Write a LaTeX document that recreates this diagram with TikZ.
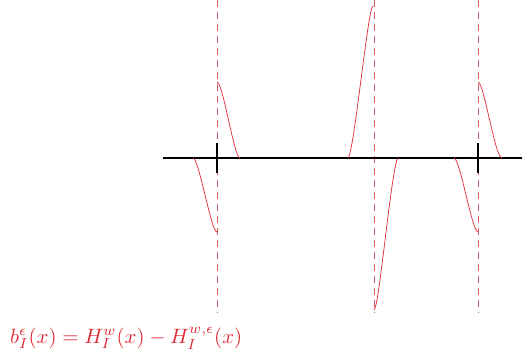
\documentclass[tikz,border=0pt]{standalone}
\usepackage{amssymb, amsmath}
\usepackage{graphicx}
\usepackage{xcolor}
\definecolor{bumpred}{RGB}{225,40,50}
\definecolor{guidered}{RGB}{215,90,100}

\begin{document}
\begin{tikzpicture}[x=1pt, y=-1pt,
        guide/.style={guidered, line width=0.9pt, dash pattern=on 7pt off 5pt},
        bump/.style={bumpred, line width=0.7pt},
        axisline/.style={black, line width=2.6pt},
        tickmark/.style={black, line width=2.8pt}]
        \useasboundingbox (0,0) rectangle (522,358);

        % Define vertices
        \coordinate (L) at (163, 158);
        \coordinate (R) at (522, 158);
        \coordinate (T1a) at (217, 143);
        \coordinate (T1b) at (217, 173);
        \coordinate (T3a) at (478, 143);
        \coordinate (T3b) at (478, 173);

        % Dashed guide lines
        \draw[guide] (217, 0) -- (217, 313);
        \draw[guide] (374, 0) -- (374, 313);
        \draw[guide] (478, 0) -- (478, 313);

        % Draw the axis
        \draw[axisline] (L) -- (R);

        % Tick marks
        \draw[tickmark] (T1a) -- (T1b);
        \draw[tickmark] (T3a) -- (T3b);

        % First bump pair
        \draw[bump] (217, 82) .. controls (223, 82) and (234, 158) .. (240, 158);
        \draw[bump] (193, 158) .. controls (199, 158) and (211, 232) .. (217, 232);

        % Second bump pair
        \draw[bump] (348, 158) .. controls (354, 154) and (368, 6) .. (373, 6);
        \draw[bump] (374, 310) .. controls (379, 310) and (392, 162) .. (398, 158);

        % Third bump pair
        \draw[bump] (478, 82) .. controls (484, 82) and (495, 158) .. (502, 158);
        \draw[bump] (454, 158) .. controls (460, 158) and (472, 232) .. (478, 232);

        % Label
        \node[bumpred, anchor=base west, inner sep=0pt]
            (formula) at (10, 343) {\resizebox{232pt}{!}{$b_I^{\epsilon}(x) = H_I^{w}(x) - H_I^{w,\epsilon}(x)$}};
\end{tikzpicture}
\end{document}
